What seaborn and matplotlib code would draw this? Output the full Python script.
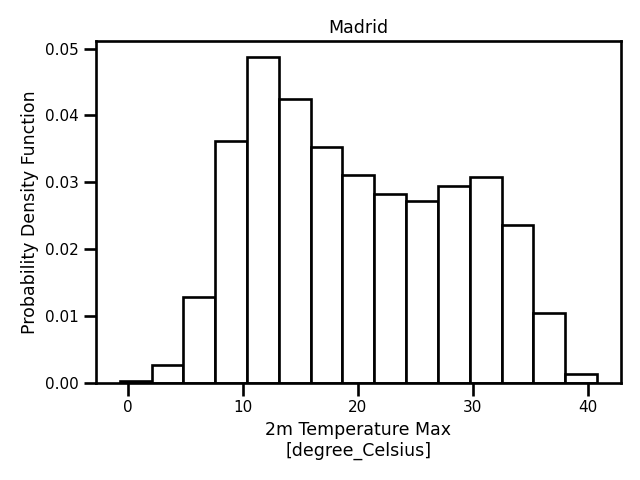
import numpy as np
import pandas as pd
import matplotlib
matplotlib.use("Agg")
import matplotlib.pyplot as plt
import seaborn as sns

# Histogram (density) values
bin_start = -0.7
bin_end = 40.8
n_bins = 15
densities = [0.0003, 0.0027, 0.0129, 0.0362, 0.0487, 0.0425, 0.0353, 0.0311,
             0.0283, 0.0272, 0.0295, 0.0308, 0.0237, 0.0105, 0.0013]
x_ticks = [0, 10, 20, 30, 40]
y_ticks = [0.0, 0.01, 0.02, 0.03, 0.04, 0.05]
y_tick_labels = ["0.00", "0.01", "0.02", "0.03", "0.04", "0.05"]

bin_edges = [float(v) for v in np.linspace(bin_start, bin_end, n_bins + 1)]
bin_centers = [(a + b) / 2 for a, b in zip(bin_edges[:-1], bin_edges[1:])]
df = pd.DataFrame({"temp": bin_centers, "density": densities})

sns.set_style("ticks")
plt.rcParams.update({
    "font.family": ["DejaVu Sans"],
    "font.size": 11,
    "text.color": "black",
    "axes.labelcolor": "black",
    "axes.edgecolor": "black",
    "xtick.color": "black",
    "ytick.color": "black",
    "axes.linewidth": 1.9,
    "xtick.major.size": 9,
    "ytick.major.size": 9,
    "xtick.major.width": 1.9,
    "ytick.major.width": 1.9,
    "xtick.labelsize": 11,
    "ytick.labelsize": 11,
    "axes.labelsize": 12.5,
    "axes.titlesize": 12.5,
})

fig, ax = plt.subplots(figsize=(6.4, 4.8), dpi=100)
sns.histplot(data=df, x="temp", weights="density", bins=bin_edges, stat="count",
             color="white", edgecolor="black", linewidth=1.9, alpha=1, ax=ax)
ax.set_xlabel("2m Temperature Max\n[degree_Celsius]")
ax.set_ylabel("Probability Density Function")
ax.set_title("Madrid")
ax.set_yticks(y_ticks)
ax.set_yticklabels(y_tick_labels)
ax.set_xticks(x_ticks)
for s in ax.spines.values():
    s.set_visible(True)
fig.subplots_adjust(left=0.15, right=0.970, top=0.9146, bottom=0.202)
fig.savefig("out.png", dpi=100)
